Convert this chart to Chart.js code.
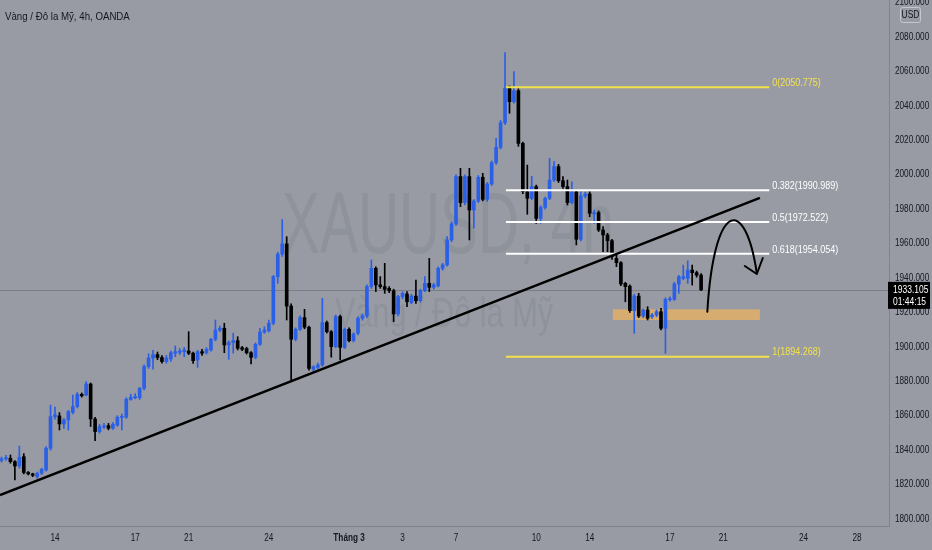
<!DOCTYPE html>
<html>
<head>
<meta charset="utf-8">
<script src="https://cdn.jsdelivr.net/npm/chart.js@4.4.1/dist/chart.umd.min.js"></script>
<style>
  html, body { margin: 0; padding: 0; background: #989ba3; }
  #wrap { width: 932px; height: 550px; position: relative; }
</style>
</head>
<body>
<div id="wrap"><canvas id="chart"></canvas></div>
<script>
// 4h candles, index 0 = first bar visible on the left (10 Feb)
const opens = [
  1834.0, 1835.0, 1835.3, 1833.3, 1830.8, 1836.2, 1827.0, 1826.2, 1824.6, 1826.6,
  1828.5, 1841.1, 1859.5, 1859.9, 1855.2, 1857.5, 1862.0, 1865.3, 1872.4, 1872.0,
  1878.4, 1858.1, 1850.8, 1853.5, 1854.2, 1852.7, 1854.6, 1859.0, 1859.1, 1869.5,
  1870.4, 1870.4, 1875.9, 1888.5, 1893.5, 1895.5, 1893.8, 1891.5, 1893.0, 1896.3,
  1896.8, 1897.2, 1897.6, 1896.3, 1892.4, 1897.2, 1896.6, 1898.2, 1904.4, 1909.8,
  1910.8, 1901.1, 1902.5, 1903.6, 1899.5, 1899.0, 1896.6, 1893.9, 1901.5, 1908.6,
  1909.4, 1913.7, 1940.8, 1953.9, 1959.8, 1923.7, 1904.4, 1910.2, 1917.0, 1911.4,
  1887.0, 1888.1, 1889.5, 1914.1, 1908.8, 1900.1, 1917.6, 1899.7, 1910.2, 1903.6,
  1907.9, 1916.6, 1918.0, 1935.0, 1945.6, 1936.0, 1935.0, 1934.0, 1932.6, 1919.1,
  1929.2, 1930.7, 1925.7, 1929.5, 1926.8, 1932.6, 1936.9, 1934.6, 1935.4, 1945.6,
  1947.6, 1962.1, 1971.4, 1998.9, 1983.8, 1998.9, 1979.5, 1984.7, 1998.5, 1985.7,
  1994.6, 2007.0, 2015.9, 2030.2, 2050.2, 2042.4, 2048.8, 2018.2, 1990.1, 1986.3,
  1993.1, 1974.6, 1981.0, 1986.3, 1996.9, 2004.7, 1996.5, 1993.1, 1983.8, 1990.1,
  1962.5, 1987.6, 1988.8, 1977.2, 1978.0, 1967.9, 1965.0, 1961.7, 1951.4, 1948.9,
  1936.9, 1935.3, 1921.0, 1929.5, 1917.9, 1921.4, 1917.5, 1918.5, 1920.4, 1910.8,
  1927.4, 1927.6, 1936.5, 1939.8, 1939.8, 1944.6, 1943.1, 1941.7
];
const highs = [
  1836.0, 1837.0, 1837.2, 1834.0, 1842.4, 1838.0, 1827.6, 1826.6, 1827.2, 1829.5,
  1842.0, 1866.2, 1865.0, 1861.8, 1858.5, 1863.0, 1872.0, 1873.5, 1873.2, 1879.8,
  1879.0, 1859.0, 1855.0, 1855.5, 1855.5, 1856.0, 1860.0, 1861.0, 1870.5, 1872.5,
  1872.8, 1876.5, 1889.5, 1896.0, 1898.0, 1897.0, 1895.0, 1895.0, 1897.5, 1900.5,
  1899.0, 1899.7, 1908.8, 1897.0, 1898.0, 1898.5, 1899.5, 1905.0, 1915.6, 1912.0,
  1913.7, 1903.5, 1907.9, 1905.9, 1900.3, 1899.8, 1897.2, 1902.3, 1910.8, 1911.7,
  1915.6, 1941.5, 1955.0, 1974.0, 1964.0, 1925.0, 1911.0, 1918.0, 1921.8, 1912.0,
  1889.0, 1890.5, 1928.2, 1915.0, 1909.5, 1918.5, 1918.5, 1911.0, 1911.0, 1908.2,
  1917.5, 1919.0, 1936.0, 1950.5, 1946.5, 1940.8, 1948.5, 1935.0, 1933.5, 1930.0,
  1932.0, 1932.1, 1930.5, 1938.8, 1933.5, 1940.8, 1951.4, 1937.0, 1946.5, 1948.5,
  1964.0, 1972.5, 2000.0, 2003.7, 2000.0, 2003.7, 1985.5, 1999.5, 2000.8, 1995.5,
  2008.0, 2021.1, 2031.5, 2070.9, 2051.5, 2059.9, 2050.0, 2019.0, 2005.6, 1999.0,
  1994.0, 1982.0, 1987.0, 2009.5, 2007.6, 2006.0, 1998.9, 1996.9, 1995.9, 1991.0,
  1990.1, 1990.0, 1990.1, 1979.5, 1979.0, 1969.8, 1966.0, 1962.5, 1953.4, 1949.5,
  1937.5, 1936.0, 1930.5, 1931.1, 1922.0, 1923.3, 1919.5, 1921.5, 1922.4, 1928.5,
  1929.1, 1937.5, 1941.5, 1947.5, 1950.0, 1947.5, 1944.0, 1942.5
];
const lows = [
  1833.0, 1834.0, 1832.4, 1822.7, 1829.5, 1826.2, 1825.6, 1824.6, 1823.6, 1825.8,
  1827.8, 1840.0, 1858.0, 1851.7, 1852.5, 1851.7, 1861.0, 1864.5, 1870.8, 1871.5,
  1853.7, 1845.5, 1849.8, 1852.5, 1851.8, 1852.0, 1853.8, 1851.7, 1858.5, 1869.0,
  1869.8, 1869.5, 1875.0, 1887.5, 1887.0, 1892.5, 1890.5, 1890.5, 1891.5, 1894.3,
  1895.5, 1894.3, 1895.5, 1890.4, 1888.1, 1895.0, 1895.8, 1897.5, 1903.5, 1908.8,
  1896.6, 1892.8, 1896.3, 1898.2, 1897.8, 1895.8, 1890.1, 1893.0, 1900.8, 1907.8,
  1908.5, 1912.8, 1936.9, 1952.5, 1915.6, 1880.8, 1903.5, 1909.5, 1910.5, 1886.5,
  1885.6, 1887.0, 1888.8, 1908.0, 1894.0, 1899.5, 1892.4, 1899.0, 1902.8, 1902.8,
  1907.0, 1915.5, 1917.0, 1934.0, 1932.1, 1934.0, 1931.1, 1931.5, 1914.6, 1918.0,
  1928.0, 1923.4, 1925.0, 1925.3, 1926.0, 1932.0, 1932.1, 1933.5, 1934.8, 1944.5,
  1946.8, 1961.0, 1970.5, 1981.4, 1982.5, 1962.1, 1968.9, 1983.8, 1984.8, 1984.5,
  1993.8, 2006.0, 2015.0, 2029.0, 2035.7, 2041.5, 2016.5, 1989.0, 1977.0, 1985.5,
  1971.7, 1971.7, 1980.0, 1985.5, 1996.0, 1995.5, 1992.0, 1982.4, 1983.0, 1959.2,
  1961.5, 1986.5, 1975.6, 1971.7, 1967.0, 1955.3, 1955.3, 1950.8, 1946.6, 1935.5,
  1926.2, 1920.0, 1907.9, 1917.0, 1917.0, 1915.6, 1916.5, 1917.5, 1909.8, 1896.2,
  1926.5, 1927.0, 1931.1, 1939.0, 1936.9, 1935.9, 1940.5, 1932.6
];
const closes = [
  1835.0, 1835.6, 1833.3, 1830.8, 1835.8, 1827.0, 1826.2, 1825.4, 1826.6, 1828.9,
  1841.1, 1859.5, 1860.5, 1855.2, 1857.5, 1862.4, 1865.3, 1872.4, 1871.6, 1878.4,
  1858.1, 1850.8, 1853.7, 1854.0, 1852.7, 1855.0, 1859.1, 1859.5, 1869.5, 1870.7,
  1871.1, 1875.9, 1888.5, 1893.5, 1895.5, 1893.8, 1891.5, 1893.5, 1896.6, 1897.2,
  1897.6, 1898.2, 1896.3, 1892.0, 1897.2, 1896.3, 1898.6, 1904.4, 1909.8, 1910.8,
  1901.1, 1902.5, 1903.6, 1899.2, 1898.6, 1896.6, 1893.9, 1901.5, 1908.6, 1909.8,
  1913.7, 1940.8, 1953.9, 1959.8, 1923.7, 1904.4, 1910.2, 1917.0, 1911.4, 1887.5,
  1888.5, 1889.5, 1914.1, 1908.8, 1900.1, 1917.6, 1899.7, 1910.2, 1903.6, 1907.5,
  1916.6, 1918.0, 1935.0, 1945.6, 1936.0, 1935.0, 1933.4, 1932.6, 1919.1, 1929.2,
  1931.1, 1926.2, 1929.5, 1926.8, 1932.6, 1936.9, 1934.6, 1936.0, 1945.6, 1947.6,
  1962.1, 1971.4, 1998.9, 1983.8, 1998.9, 1979.5, 1984.7, 1998.5, 1985.7, 1994.6,
  2007.0, 2015.9, 2030.2, 2050.2, 2042.4, 2048.8, 2018.2, 1990.2, 1986.3, 1993.1,
  1974.6, 1981.0, 1986.3, 1996.9, 2004.7, 1996.5, 1993.1, 1983.8, 1990.1, 1962.5,
  1987.6, 1988.8, 1977.6, 1978.0, 1967.9, 1965.0, 1961.7, 1952.4, 1948.9, 1936.5,
  1935.0, 1921.0, 1929.5, 1917.9, 1921.4, 1916.6, 1918.5, 1920.4, 1910.8, 1927.6,
  1928.0, 1936.5, 1940.8, 1940.8, 1944.6, 1943.1, 1941.7, 1933.105
];

// date labels on the time axis, placed at the first bar of each day
const dayTickIdx    = [12, 30, 42, 60, 78, 90, 102, 120, 132, 150, 162, 180, 192];
const dayTickLabels = ['14', '17', '21', '24', 'Tháng 3', '3', '7', '10', '14', '17', '21', '24', '28'];
const priceTicks = [1800, 1820, 1840, 1860, 1880, 1900, 1920, 1940, 1960, 1980, 2000, 2020, 2040, 2060, 2080, 2100];

// drawings on the chart (bar index, price)
const fibNames  = ['0', '0.382', '0.5', '0.618', '1'];
const fibLevels = [2050.775, 1990.989, 1972.522, 1954.054, 1894.268];
const fibSpan   = [113.2, 172.3];
const trendLine = [[-0.34, 1813.9], [170.2, 1986.5]];
const zoneSpan  = [137.2, 170.2];
const zonePrice = [1921.8, 1915.6];
const arrowPath = [[158.4, 1920.4], [159.9, 1985.3], [166.9, 1988.2], [169.5, 1942.9]];
const countdown = '01:44:15';

const FONT = "'Liberation Sans', Arial, sans-serif";
const UP = '#2a5fe8';
const DOWN = '#000000';
const YELLOW = '#f3e14c';
const INK = '#131722';

const candleColors = closes.map((c, i) => c >= opens[i] ? UP : DOWN);
const wickData = highs.map((h, i) => ({ x: i, y: [lows[i], h] }));
const bodyData = opens.map((o, i) => ({ x: i, y: [o, closes[i]] }));

// text squeezed horizontally, the screenshot uses a narrow face
function narrowText(ctx, text, x, y, font, align, sx) {
  ctx.save();
  ctx.font = font;
  ctx.textAlign = align;
  ctx.translate(x, y);
  ctx.scale(sx, 1);
  ctx.fillText(text, 0, 0);
  ctx.restore();
}

function stretchedText(ctx, text, cx, baseY, size, width) {
  ctx.font = size + 'px ' + FONT;
  const w = ctx.measureText(text).width;
  ctx.save();
  ctx.translate(cx, baseY);
  ctx.scale(width / w, 1);
  ctx.textAlign = 'center';
  ctx.textBaseline = 'alphabetic';
  ctx.fillText(text, 0, 0);
  ctx.restore();
}

const overlay = {
  id: 'overlay',
  beforeDatasetsDraw(chart) {
    const { ctx, chartArea: a, scales: { x, y } } = chart;
    ctx.save();
    ctx.beginPath();
    ctx.rect(a.left, a.top, a.width, a.height);
    ctx.clip();

    // watermark
    ctx.fillStyle = 'rgba(60, 64, 75, 0.10)';
    stretchedText(ctx, 'XAUUSD, 4h', 448, 253, 88, 332);
    stretchedText(ctx, 'Vàng / Đô la Mỹ', 444, 327, 42, 218);

    // support zone
    ctx.fillStyle = '#d6ac70';
    const zx0 = x.getPixelForValue(zoneSpan[0]);
    const zx1 = x.getPixelForValue(zoneSpan[1]);
    const zy0 = y.getPixelForValue(zonePrice[0]);
    const zy1 = y.getPixelForValue(zonePrice[1]);
    ctx.fillRect(zx0, zy0, zx1 - zx0, zy1 - zy0);

    // last price line
    const py = Math.round(y.getPixelForValue(closes[closes.length - 1])) + 0.5;
    ctx.strokeStyle = '#7b7e87';
    ctx.lineWidth = 1;
    ctx.beginPath();
    ctx.moveTo(a.left, py);
    ctx.lineTo(a.right, py);
    ctx.stroke();
    ctx.restore();
  },
  afterDatasetsDraw(chart) {
    const { ctx, chartArea: a, scales: { x, y } } = chart;
    ctx.save();
    ctx.beginPath();
    ctx.rect(a.left, a.top, a.width, a.height);
    ctx.clip();

    // fibonacci retracement
    const fx0 = x.getPixelForValue(fibSpan[0]);
    const fx1 = x.getPixelForValue(fibSpan[1]);
    ctx.textBaseline = 'bottom';
    fibLevels.forEach((lv, k) => {
      const col = (k === 0 || k === fibLevels.length - 1) ? YELLOW : '#ffffff';
      const ly = y.getPixelForValue(lv);
      ctx.strokeStyle = col;
      ctx.lineWidth = 2;
      ctx.beginPath();
      ctx.moveTo(fx0, ly);
      ctx.lineTo(fx1, ly);
      ctx.stroke();
      ctx.fillStyle = col;
      narrowText(ctx, fibNames[k] + '(' + lv.toFixed(3) + ')', fx1 + 3, ly + 1, '10px ' + FONT, 'left', 0.9);
    });

    // trend line
    ctx.strokeStyle = '#000000';
    ctx.lineWidth = 2.5;
    ctx.beginPath();
    ctx.moveTo(x.getPixelForValue(trendLine[0][0]), y.getPixelForValue(trendLine[0][1]));
    ctx.lineTo(x.getPixelForValue(trendLine[1][0]), y.getPixelForValue(trendLine[1][1]));
    ctx.stroke();

    // projected path arrow
    const p = arrowPath.map(([i, v]) => [x.getPixelForValue(i), y.getPixelForValue(v)]);
    ctx.lineWidth = 2;
    ctx.lineCap = 'round';
    ctx.lineJoin = 'round';
    ctx.beginPath();
    ctx.moveTo(p[0][0], p[0][1]);
    ctx.bezierCurveTo(p[1][0], p[1][1], p[2][0], p[2][1], p[3][0], p[3][1]);
    ctx.stroke();
    const tip = p[3];
    ctx.beginPath();
    ctx.moveTo(tip[0] - 12, tip[1] - 7);
    ctx.lineTo(tip[0], tip[1] + 1);
    ctx.lineTo(tip[0] + 6, tip[1] - 15);
    ctx.stroke();
    ctx.restore();
  },
  afterDraw(chart) {
    const { ctx, chartArea: a, scales: { x, y } } = chart;
    ctx.save();

    // axis labels, placed through the scales
    ctx.fillStyle = INK;
    ctx.textBaseline = 'middle';
    y.ticks.forEach((t) => {
      narrowText(ctx, t.value.toFixed(3), a.right + 6, y.getPixelForValue(t.value), '10px ' + FONT, 'left', 0.82);
    });
    x.ticks.forEach((t) => {
      const lab = dayTickLabels[dayTickIdx.indexOf(t.value)];
      const f = (lab === 'Tháng 3' ? 'bold ' : '') + '10px ' + FONT;
      narrowText(ctx, lab, x.getPixelForValue(t.value), a.bottom + 12, f, 'center', 0.82);
    });

    // symbol title
    ctx.textBaseline = 'alphabetic';
    narrowText(ctx, 'Vàng / Đô la Mỹ, 4h, OANDA', 5, 20, '11px ' + FONT, 'left', 0.88);

    // currency box on the price axis
    ctx.fillStyle = '#989ba3';
    ctx.fillRect(a.right + 8, 6, 24, 18);
    ctx.strokeStyle = '#c4c7cd';
    ctx.lineWidth = 1;
    ctx.beginPath();
    ctx.roundRect(a.right + 11.5, 7.5, 20, 15, 2);
    ctx.stroke();
    ctx.fillStyle = INK;
    ctx.textBaseline = 'middle';
    narrowText(ctx, 'USD', a.right + 21.5, 15.5, '10px ' + FONT, 'center', 0.85);

    // last price tag
    const last = closes[closes.length - 1];
    const py = y.getPixelForValue(last);
    ctx.fillStyle = '#000000';
    ctx.fillRect(a.right - 1, py - 8, 42, 27);
    ctx.fillStyle = '#ffffff';
    narrowText(ctx, String(last), a.right + 4, py, '10px ' + FONT, 'left', 0.85);
    narrowText(ctx, countdown, a.right + 4, py + 12, '10px ' + FONT, 'left', 0.85);
    ctx.restore();
  }
};

new Chart(document.getElementById('chart'), {
  type: 'bar',
  data: {
    datasets: [
      {
        data: bodyData,
        backgroundColor: candleColors,
        barThickness: 3,
        minBarLength: 1,
        grouped: false,
        order: 0
      },
      {
        data: wickData,
        backgroundColor: candleColors,
        barThickness: 1,
        grouped: false,
        order: 1
      }
    ]
  },
  options: {
    responsive: true,
    maintainAspectRatio: false,
    animation: false,
    layout: { padding: 0 },
    plugins: {
      legend: { display: false },
      tooltip: { enabled: false }
    },
    scales: {
      x: {
        type: 'linear',
        offset: false,
        min: -0.34,
        max: 199.17,
        grid: { display: false, drawTicks: false },
        border: { display: true, color: '#80838c' },
        ticks: { display: false },
        afterBuildTicks: (s) => { s.ticks = dayTickIdx.map(v => ({ value: v })); },
        afterFit: (s) => { s.height = 24; s.paddingLeft = 0; s.paddingRight = 0; }
      },
      y: {
        position: 'right',
        min: 1795.93,
        max: 2101.49,
        grid: { display: false, drawTicks: false },
        border: { display: true, color: '#80838c' },
        ticks: { display: false },
        afterBuildTicks: (s) => { s.ticks = priceTicks.map(v => ({ value: v })); },
        afterFit: (s) => { s.width = 43; s.paddingTop = 0; s.paddingBottom = 0; }
      }
    }
  },
  plugins: [overlay]
});
</script>
</body>
</html>
